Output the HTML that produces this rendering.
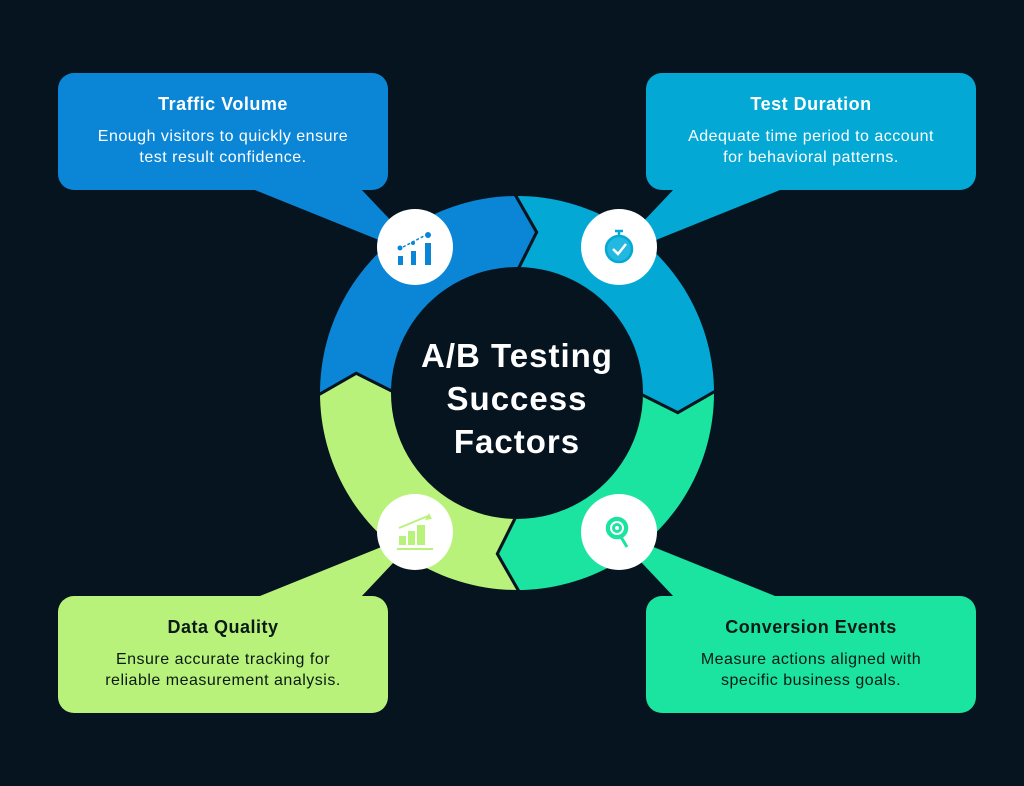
<!DOCTYPE html>
<html><head><meta charset="utf-8"><style>
html,body{margin:0;padding:0;background:#06141f;}
body{width:1024px;height:786px;overflow:hidden;position:relative;font-family:"Liberation Sans",sans-serif;}
.box{position:absolute;width:330px;height:117px;border-radius:16px;text-align:center;box-sizing:border-box;}
.box h3{margin:0;padding-top:21px;font-size:18px;font-weight:bold;line-height:20px;letter-spacing:0.5px;}
.box p{margin:12px 0 0;font-size:16px;line-height:21px;letter-spacing:0.5px;}
.w{color:#fff}.d{color:#0b1a16}
</style></head><body>
<svg width="1024" height="786" style="position:absolute;left:0;top:0">
<defs>
<clipPath id="ring"><path clip-rule="evenodd" d="M517,196a197,197 0 1,0 0.01,0Z M517,267a126,126 0 1,1 -0.01,0Z"/></clipPath>
</defs>
<polygon points="250,188 360,188 396,226 384,242" fill="#0b86d6"/>
<polygon points="785,188 675,188 639,226 651,242" fill="#03a9d4"/>
<polygon points="255,598 360,598 394,562 384,546" fill="#b9f27a"/>
<polygon points="780,598 675,598 641,562 651,546" fill="#1be3a0"/>
<g clip-path="url(#ring)">
<g transform="translate(517,393)">
<polygon points="0,0 -109.8,5.8 -160.8,-19.7 -214.7,11.2 -300,11 -300,-300 -11,-300 -11.2,-214.7 19.7,-160.8 -5.8,-109.8" fill="#0b86d6" stroke="#06141f" stroke-width="3"/>
<polygon transform="rotate(90)" points="0,0 -109.8,5.8 -160.8,-19.7 -214.7,11.2 -300,11 -300,-300 -11,-300 -11.2,-214.7 19.7,-160.8 -5.8,-109.8" fill="#03a9d4" stroke="#06141f" stroke-width="3"/>
<polygon transform="rotate(180)" points="0,0 -109.8,5.8 -160.8,-19.7 -214.7,11.2 -300,11 -300,-300 -11,-300 -11.2,-214.7 19.7,-160.8 -5.8,-109.8" fill="#1be3a0" stroke="#06141f" stroke-width="3"/>
<polygon transform="rotate(270)" points="0,0 -109.8,5.8 -160.8,-19.7 -214.7,11.2 -300,11 -300,-300 -11,-300 -11.2,-214.7 19.7,-160.8 -5.8,-109.8" fill="#b9f27a" stroke="#06141f" stroke-width="3"/>
</g>
</g>
<circle cx="415" cy="247" r="38" fill="#fff"/>
<circle cx="619" cy="247" r="38" fill="#fff"/>
<circle cx="415" cy="532" r="38" fill="#fff"/>
<circle cx="619" cy="532" r="38" fill="#fff"/>
<g fill="#0b86d6">
<rect x="398" y="256" width="5" height="9"/><rect x="411" y="251" width="5" height="14"/><rect x="425" y="243" width="6" height="22"/>
<circle cx="400" cy="248" r="2.5"/><circle cx="428" cy="235" r="3"/><circle cx="413" cy="243" r="2"/>
<line x1="403" y1="247" x2="424" y2="236" stroke="#0b86d6" stroke-width="1.5" stroke-dasharray="3,2"/>
</g>
<g fill="none" stroke="#03a9d4" stroke-width="2.5">
<circle cx="619" cy="249" r="13" fill="#23b8df"/>
<polyline points="613,249 618,254 626,244" stroke="#fff"/>
<line x1="619" y1="232" x2="619" y2="236"/><line x1="615" y1="231" x2="623" y2="231"/>
</g>
<g fill="#b9f27a">
<rect x="399" y="536" width="7" height="9"/><rect x="408" y="531" width="7" height="14"/><rect x="417" y="525" width="8" height="20"/>
<rect x="397" y="548" width="36" height="2"/>
<polyline points="399,528 428,516" stroke="#b9f27a" stroke-width="2" fill="none"/>
<polygon points="429,513 432,519 425,520"/>
</g>
<g fill="none" stroke="#1be3a0" stroke-width="2.5">
<circle cx="617" cy="528" r="10" fill="#1be3a0"/>
<circle cx="617" cy="528" r="6" stroke="#fff" stroke-width="2"/>
<circle cx="617" cy="528" r="2" fill="#fff" stroke="none"/>
<line x1="621" y1="537" x2="627" y2="547" stroke-width="3"/>
</g>
<g fill="#fff" font-family="Liberation Sans, sans-serif" font-weight="bold" font-size="33" letter-spacing="1" text-anchor="middle">
<text x="517" y="367">A/B Testing</text>
<text x="517" y="410">Success</text>
<text x="517" y="453">Factors</text>
</g>
</svg>
<div class="box w" style="left:58px;top:73px;background:#0b86d6"><h3>Traffic Volume</h3><p>Enough visitors to quickly ensure<br>test result confidence.</p></div>
<div class="box w" style="left:646px;top:73px;background:#03a9d4"><h3>Test Duration</h3><p>Adequate time period to account<br>for behavioral patterns.</p></div>
<div class="box d" style="left:58px;top:596px;background:#b9f27a"><h3>Data Quality</h3><p>Ensure accurate tracking for<br>reliable measurement analysis.</p></div>
<div class="box d" style="left:646px;top:596px;background:#1be3a0"><h3>Conversion Events</h3><p>Measure actions aligned with<br>specific business goals.</p></div>
</body></html>
